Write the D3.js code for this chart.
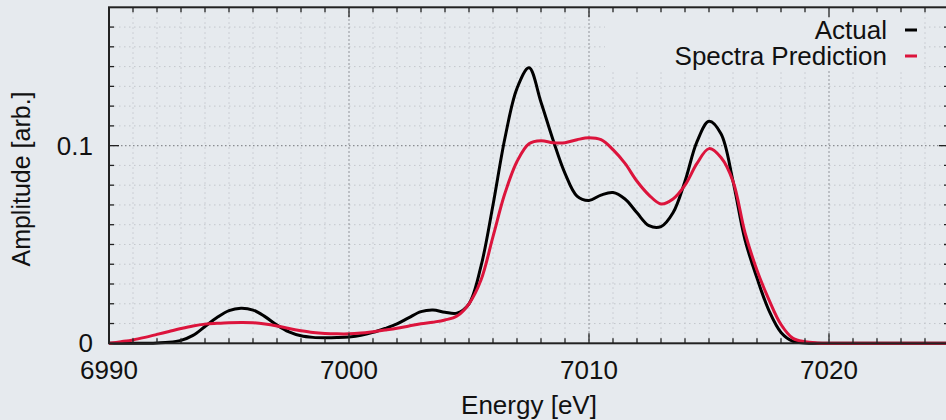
<!DOCTYPE html>
<html>
<head>
<meta charset="utf-8">
<script src="https://cdn.jsdelivr.net/npm/d3@7/dist/d3.min.js"></script>
<style>
  html, body { margin: 0; padding: 0; background: #e6eaee; overflow: hidden; }
  svg { display: block; }
  text { font-family: "Liberation Sans", Arial, Helvetica, sans-serif; fill: #111; }
</style>
</head>
<body>
<svg id="chart" width="946" height="420"></svg>
<script>
// ---- data ----
const energy = [6990, 6990.5, 6991, 6991.5, 6992, 6992.5, 6993, 6993.5, 6994, 6994.5,
  6995, 6995.5, 6996, 6996.5, 6997, 6997.5, 6998, 6998.5, 6999, 6999.5,
  7000, 7000.5, 7001, 7001.5, 7002, 7002.5, 7003, 7003.5, 7004, 7004.5,
  7005, 7005.5, 7006, 7006.5, 7007, 7007.5, 7008, 7008.5, 7009, 7009.5,
  7010, 7010.5, 7011, 7011.5, 7012, 7012.5, 7013, 7013.5, 7014, 7014.5,
  7015, 7015.5, 7016, 7016.5, 7017, 7017.5, 7018, 7018.5, 7019, 7019.5,
  7020, 7021, 7022, 7023, 7024, 7025];
const actual = [0, 0, 0, 0, 0.0002, 0.0005, 0.0015, 0.004, 0.0085, 0.013,
  0.0165, 0.0177, 0.0168, 0.0135, 0.0092, 0.0058, 0.0038, 0.0030, 0.0028, 0.0029,
  0.0032, 0.0040, 0.0055, 0.0075, 0.0098, 0.0130, 0.0160, 0.0168, 0.0157, 0.0153,
  0.020, 0.039, 0.070, 0.104, 0.129, 0.1394, 0.122, 0.103, 0.086, 0.0745,
  0.0723, 0.0750, 0.0763, 0.073, 0.066, 0.0595, 0.059, 0.066, 0.082, 0.102,
  0.1123, 0.106, 0.082, 0.0523, 0.033, 0.0165, 0.0055, 0.001, 0.0002, 0,
  0, 0, 0, 0, 0, 0];
const prediction = [0, 0.0008, 0.0017, 0.003, 0.0045, 0.006, 0.0075, 0.0088, 0.0097, 0.0101,
  0.0104, 0.0105, 0.0104, 0.0098, 0.0088, 0.0075, 0.0064, 0.0055, 0.0050, 0.0048,
  0.0048, 0.0052, 0.0059, 0.0067, 0.0076, 0.0088, 0.0099, 0.0107, 0.0118, 0.0138,
  0.020, 0.032, 0.054, 0.076, 0.092, 0.101, 0.1025, 0.1015, 0.1015, 0.103,
  0.104, 0.103, 0.098, 0.091, 0.082, 0.075, 0.0705, 0.073, 0.080, 0.091,
  0.0985, 0.094, 0.082, 0.056, 0.037, 0.022, 0.0095, 0.0025, 0.0008, 0.0002,
  0, 0, 0, 0, 0, 0];
const xTickLabels = ["6990", "7000", "7010", "7020"];
const yTickLabels = ["0", "0.1"];
const seriesNames = ["Actual", "Spectra Prediction"];
const seriesColors = ["#000000", "#dc143c"];

// ---- layout ----
const L = 109, R = 949, T = 7.3, B = 343.3;
const x = d3.scaleLinear().domain([6990, 7025]).range([L, R]);
const y = d3.scaleLinear().domain([0, 0.17]).range([B, T]);
const svg = d3.select("#chart");

svg.append("defs").append("clipPath").attr("id", "clip")
  .append("rect").attr("x", L).attr("y", T).attr("width", R - L).attr("height", B - T + 2);

const xMinor = d3.range(6991, 7025, 1).filter(v => v % 10 !== 0);
const xMajor = xTickLabels.map(Number);
const yMinorVals = d3.range(1, 17).map(i => i / 100).filter(v => Math.abs(v - 0.1) > 1e-9);
const yMajor = yTickLabels.map(Number);

const grid = svg.append("g");
grid.selectAll(".vx").data(xMinor).enter().append("line")
  .attr("x1", d => x(d)).attr("x2", d => x(d)).attr("y1", T).attr("y2", B)
  .attr("stroke", "#c3c7cc").attr("stroke-width", 1).attr("stroke-dasharray", "1.5,3.5");
grid.selectAll(".hy").data(yMinorVals).enter().append("line")
  .attr("x1", L).attr("x2", R).attr("y1", d => y(d)).attr("y2", d => y(d))
  .attr("stroke", "#c3c7cc").attr("stroke-width", 1).attr("stroke-dasharray", "1.5,3.5");
grid.selectAll(".vX").data(xMajor.filter(v => v > 6990)).enter().append("line")
  .attr("x1", d => x(d)).attr("x2", d => x(d)).attr("y1", T).attr("y2", B)
  .attr("stroke", "#8a8d91").attr("stroke-width", 1.2).attr("stroke-dasharray", "1.5,2.5");
grid.selectAll(".hY").data(yMajor.filter(v => v > 0)).enter().append("line")
  .attr("x1", L).attr("x2", R).attr("y1", d => y(d)).attr("y2", d => y(d))
  .attr("stroke", "#8a8d91").attr("stroke-width", 1.2).attr("stroke-dasharray", "1.5,2.5");

// legend box hides grid
svg.append("rect").attr("x", 605).attr("y", T + 1).attr("width", 319).attr("height", 62)
  .attr("fill", "#e6eaee");

// ---- lines ----
const line = vals => d3.line()
  .x((d, i) => x(energy[i])).y(d => y(d))
  .curve(d3.curveCatmullRom.alpha(0.5))(vals);
const plot = svg.append("g").attr("clip-path", "url(#clip)");
[actual, prediction].forEach((vals, k) => {
  plot.append("path").attr("d", line(vals)).attr("fill", "none")
    .attr("stroke", seriesColors[k]).attr("stroke-width", 3)
    .attr("stroke-linejoin", "round").attr("stroke-linecap", "round");
});

// ---- ticks ----
const tk = svg.append("g").attr("stroke", "#222").attr("stroke-width", 1.3);
d3.range(6991, 7025, 1).forEach(v => {
  const len = (v % 10 === 0) ? 10 : 5;
  tk.append("line").attr("x1", x(v)).attr("x2", x(v)).attr("y1", B).attr("y2", B - len);
  tk.append("line").attr("x1", x(v)).attr("x2", x(v)).attr("y1", T).attr("y2", T + len);
});
d3.range(1, 17).map(i => i / 100).forEach(v => {
  const len = Math.abs(v - 0.1) < 1e-9 ? 10 : 5;
  tk.append("line").attr("x1", L).attr("x2", L + len).attr("y1", y(v)).attr("y2", y(v));
  tk.append("line").attr("x1", R).attr("x2", R - len).attr("y1", y(v)).attr("y2", y(v));
});

// frame
svg.append("rect").attr("x", L).attr("y", T).attr("width", R - L).attr("height", B - T)
  .attr("fill", "none").attr("stroke", "#222").attr("stroke-width", 2);

// ---- labels ----
const fs = 26;
svg.selectAll(".xl").data(xTickLabels).enter().append("text")
  .attr("x", d => x(+d)).attr("y", 378.5).attr("text-anchor", "middle")
  .attr("font-size", fs).text(d => d);
svg.selectAll(".yl").data(yTickLabels).enter().append("text")
  .attr("x", 93).attr("y", d => y(+d)).attr("dy", "0.35em").attr("text-anchor", "end")
  .attr("font-size", fs).text(d => d);
svg.append("text").attr("x", (L + R) / 2).attr("y", 413.5).attr("text-anchor", "middle")
  .attr("font-size", fs).text("Energy [eV]");
svg.append("text").attr("transform", "translate(30,179) rotate(-90)")
  .attr("text-anchor", "middle").attr("font-size", 25).text("Amplitude [arb.]");

// legend
seriesNames.forEach((name, k) => {
  const by = 38.5 + k * 26;
  svg.append("text").attr("x", 887).attr("y", by).attr("text-anchor", "end")
    .attr("font-size", fs).text(name);
  svg.append("line").attr("x1", 905).attr("x2", 917).attr("y1", by - 8.5).attr("y2", by - 8.5)
    .attr("stroke", seriesColors[k]).attr("stroke-width", 3);
});
</script>
</body>
</html>
